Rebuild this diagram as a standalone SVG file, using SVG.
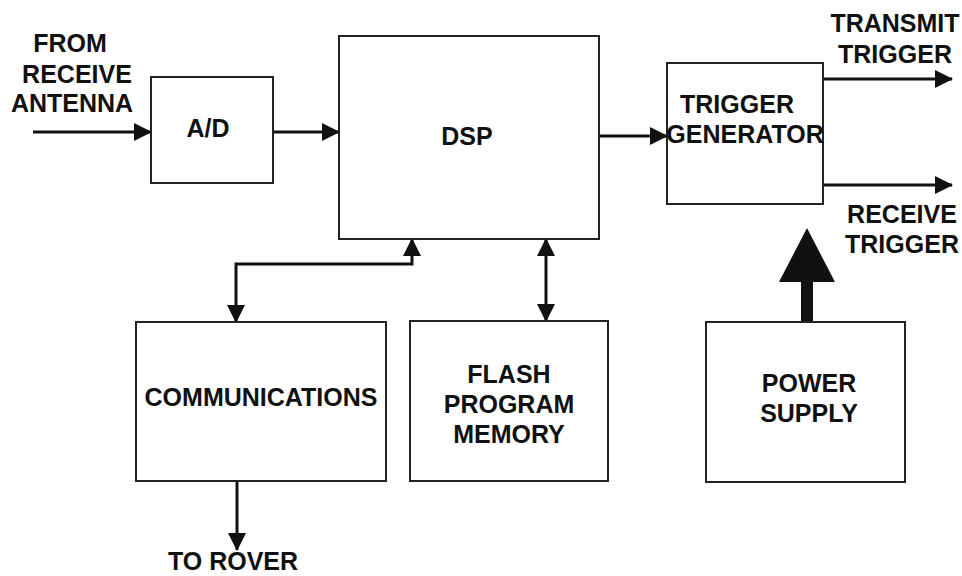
<svg xmlns="http://www.w3.org/2000/svg" width="962" height="576" viewBox="0 0 962 576">
  <style>
    .box { fill: #ffffff; stroke: #222222; stroke-width: 2; }
    .lbl { font-family: "Liberation Sans", Arial, sans-serif; font-weight: bold; font-size: 25px; fill: #111111; text-anchor: middle; }
    .wire { fill: none; stroke: #111111; stroke-width: 3; }
  </style>
  <defs>
    <marker id="head" markerUnits="userSpaceOnUse" markerWidth="18" markerHeight="18" viewBox="0 0 18 18" refX="17" refY="9" orient="auto-start-reverse">
      <path d="M0,0 L18,9 L0,18 Z" fill="#111111"/>
    </marker>
  </defs>
  <rect width="962" height="576" fill="#ffffff"/>

  <g id="connectors">
    <line class="wire" x1="33" y1="132" x2="151" y2="132" marker-end="url(#head)"/>
    <line class="wire" x1="273" y1="132" x2="339" y2="132" marker-end="url(#head)"/>
    <line class="wire" x1="599" y1="136" x2="667" y2="136" marker-end="url(#head)"/>
    <line class="wire" x1="823" y1="79" x2="952" y2="79" marker-end="url(#head)"/>
    <line class="wire" x1="823" y1="185" x2="952" y2="185" marker-end="url(#head)"/>
    <polyline class="wire" points="236,322 236,264 412,264 412,239" marker-start="url(#head)" marker-end="url(#head)"/>
    <line class="wire" x1="546" y1="239" x2="546" y2="321" marker-start="url(#head)" marker-end="url(#head)"/>
    <line class="wire" x1="237" y1="481" x2="237" y2="550" marker-end="url(#head)"/>
    <rect x="801" y="280" width="12" height="42" fill="#111111"/>
    <polygon points="807,228 779,282 835,282" fill="#111111"/>
  </g>

  <g id="input-label">
    <text class="lbl" x="70" y="52">FROM</text>
    <text class="lbl" x="77" y="83">RECEIVE</text>
    <text class="lbl" x="72" y="112">ANTENNA</text>
  </g>

  <g id="adc">
    <rect class="box" x="151" y="77" width="122" height="106"/>
    <text class="lbl" x="208" y="137">A/D</text>
  </g>

  <g id="dsp">
    <rect class="box" x="339" y="36" width="260" height="203"/>
    <text class="lbl" x="467" y="145">DSP</text>
  </g>

  <g id="trigger-generator">
    <rect class="box" x="667" y="63" width="156" height="141"/>
    <text class="lbl" x="737" y="113">TRIGGER</text>
    <text class="lbl" x="745" y="143">GENERATOR</text>
  </g>

  <g id="transmit-trigger">
    <text class="lbl" x="895" y="32">TRANSMIT</text>
    <text class="lbl" x="895" y="63">TRIGGER</text>
  </g>

  <g id="receive-trigger">
    <text class="lbl" x="902" y="223">RECEIVE</text>
    <text class="lbl" x="902" y="253">TRIGGER</text>
  </g>

  <g id="communications">
    <rect class="box" x="136" y="322" width="250" height="159"/>
    <text class="lbl" x="261" y="406">COMMUNICATIONS</text>
  </g>

  <g id="flash-memory">
    <rect class="box" x="410" y="321" width="198" height="160"/>
    <text class="lbl" x="509" y="383">FLASH</text>
    <text class="lbl" x="509" y="413">PROGRAM</text>
    <text class="lbl" x="509" y="443">MEMORY</text>
  </g>

  <g id="power-supply">
    <rect class="box" x="706" y="322" width="199" height="160"/>
    <text class="lbl" x="809" y="392">POWER</text>
    <text class="lbl" x="809" y="422">SUPPLY</text>
  </g>

  <g id="rover-label">
    <text class="lbl" x="233" y="570">TO ROVER</text>
  </g>
</svg>
